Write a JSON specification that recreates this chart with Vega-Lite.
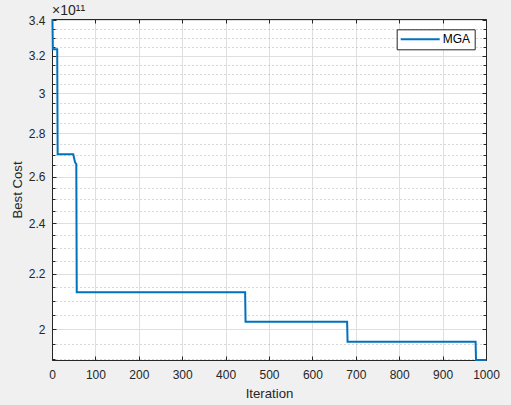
{
  "$schema": "https://vega.github.io/schema/vega-lite/v6.json",
  "width": 434,
  "height": 341,
  "autosize": {"type": "none"},
  "padding": {"left": 52, "top": 19, "right": 25, "bottom": 45},
  "background": "#f0f0f0",
  "title": {"text": "×10¹¹", "anchor": "start", "frame": "group", "offset": 1.5, "dy": 19, "baseline": "bottom", "fontSize": 14, "fontWeight": "normal", "font": "Liberation Sans", "color": "#262626"},
  "config": {
    "view": {"fill": "white", "stroke": null},
    "font": "Liberation Sans",
    "axis": {"labelFont": "Liberation Sans", "titleFont": "Liberation Sans", "labelColor": "#262626", "titleColor": "#262626", "labelFontSize": 12, "titleFontSize": 13.2, "titleFontWeight": "normal", "domainColor": "#262626", "tickColor": "#262626", "domainWidth": 1, "tickWidth": 1}
  },
  "data": {
    "values": [
      {"iteration": 1, "cost": 3.408, "series": "MGA"},
      {"iteration": 2, "cost": 3.235, "series": "MGA"},
      {"iteration": 12, "cost": 3.235, "series": "MGA"},
      {"iteration": 13, "cost": 2.702, "series": "MGA"},
      {"iteration": 49, "cost": 2.702, "series": "MGA"},
      {"iteration": 53, "cost": 2.665, "series": "MGA"},
      {"iteration": 56, "cost": 2.656, "series": "MGA"},
      {"iteration": 57, "cost": 2.132, "series": "MGA"},
      {"iteration": 445, "cost": 2.132, "series": "MGA"},
      {"iteration": 446, "cost": 2.026, "series": "MGA"},
      {"iteration": 680, "cost": 2.026, "series": "MGA"},
      {"iteration": 681, "cost": 1.958, "series": "MGA"},
      {"iteration": 976, "cost": 1.958, "series": "MGA"},
      {"iteration": 977, "cost": 1.8975, "series": "MGA"},
      {"iteration": 1000, "cost": 1.8975, "series": "MGA"}
    ]
  },
  "layer": [
    {
      "mark": {"type": "line", "strokeOpacity": 0},
      "encoding": {
        "x": {"field": "iteration", "type": "quantitative", "scale": {"domain": [0, 1000], "nice": false}, "axis": null},
        "y": {"field": "cost", "type": "quantitative", "scale": {"type": "log", "domain": [1.8975, 3.408], "nice": false},
          "axis": {"orient": "left", "title": null, "values": [1.9, 1.95, 2.05, 2.1, 2.15, 2.25, 2.3, 2.35, 2.45, 2.5, 2.55, 2.65, 2.7, 2.75, 2.85, 2.9, 2.95, 3.05, 3.1, 3.15, 3.25, 3.3, 3.35], "labels": false, "domain": false, "ticks": true, "tickSize": -3, "grid": true, "gridColor": "#b0b0b0", "gridDash": [1, 3], "gridWidth": 1}}
      }
    },
    {
      "mark": {"type": "line", "strokeOpacity": 0},
      "encoding": {
        "x": {"field": "iteration", "type": "quantitative", "scale": {"domain": [0, 1000], "nice": false}, "axis": null},
        "y": {"field": "cost", "type": "quantitative", "scale": {"type": "log", "domain": [1.8975, 3.408], "nice": false},
          "axis": {"orient": "right", "title": null, "values": [1.9, 1.95, 2.05, 2.1, 2.15, 2.25, 2.3, 2.35, 2.45, 2.5, 2.55, 2.65, 2.7, 2.75, 2.85, 2.9, 2.95, 3.05, 3.1, 3.15, 3.25, 3.3, 3.35], "labels": false, "domain": false, "ticks": true, "tickSize": -3, "grid": false}}
      }
    },
    {
      "mark": {"type": "line", "strokeOpacity": 0},
      "encoding": {
        "x": {"field": "iteration", "type": "quantitative", "scale": {"domain": [0, 1000], "nice": false},
          "axis": {"orient": "top", "title": null, "values": [0, 100, 200, 300, 400, 500, 600, 700, 800, 900, 1000], "labels": false, "domain": true, "ticks": true, "tickSize": -4, "grid": false}},
        "y": {"field": "cost", "type": "quantitative", "scale": {"type": "log", "domain": [1.8975, 3.408], "nice": false},
          "axis": {"orient": "right", "title": null, "values": [2, 2.2, 2.4, 2.6, 2.8, 3, 3.2, 3.4], "labels": false, "domain": true, "ticks": true, "tickSize": -4, "grid": false}}
      }
    },
    {
      "mark": {"type": "line", "strokeWidth": 2, "clip": false},
      "encoding": {
        "x": {"field": "iteration", "type": "quantitative", "scale": {"domain": [0, 1000], "nice": false},
          "axis": {"orient": "bottom", "title": "Iteration", "values": [0, 100, 200, 300, 400, 500, 600, 700, 800, 900, 1000], "format": "d", "labelPadding": 13.5, "titlePadding": 7, "domain": true, "ticks": true, "tickSize": -4, "grid": true, "gridColor": "#dfdfdf", "labelFlush": false}},
        "y": {"field": "cost", "type": "quantitative", "scale": {"type": "log", "domain": [1.8975, 3.408], "nice": false},
          "axis": {"orient": "left", "title": "Best Cost", "values": [2, 2.2, 2.4, 2.6, 2.8, 3, 3.2, 3.4], "format": "~g", "labelPadding": 11, "titlePadding": 4, "domain": true, "ticks": true, "tickSize": -4, "grid": true, "gridColor": "#dfdfdf", "labelFlush": false}},
        "color": {"field": "series", "type": "nominal", "scale": {"range": ["#0072BD"]},
          "legend": {"title": null, "orient": "none", "legendX": 344.7, "legendY": 10.3, "padding": 4, "fillColor": "white", "strokeColor": "#262626", "symbolType": "M-1.2,0H6.6", "symbolSize": 100, "symbolStrokeWidth": 2, "labelFontSize": 12, "labelFont": "Liberation Sans", "labelColor": "#000000", "labelOffset": 30}}
      }
    }
  ],
  "resolve": {"axis": {"x": "independent", "y": "independent"}}
}
